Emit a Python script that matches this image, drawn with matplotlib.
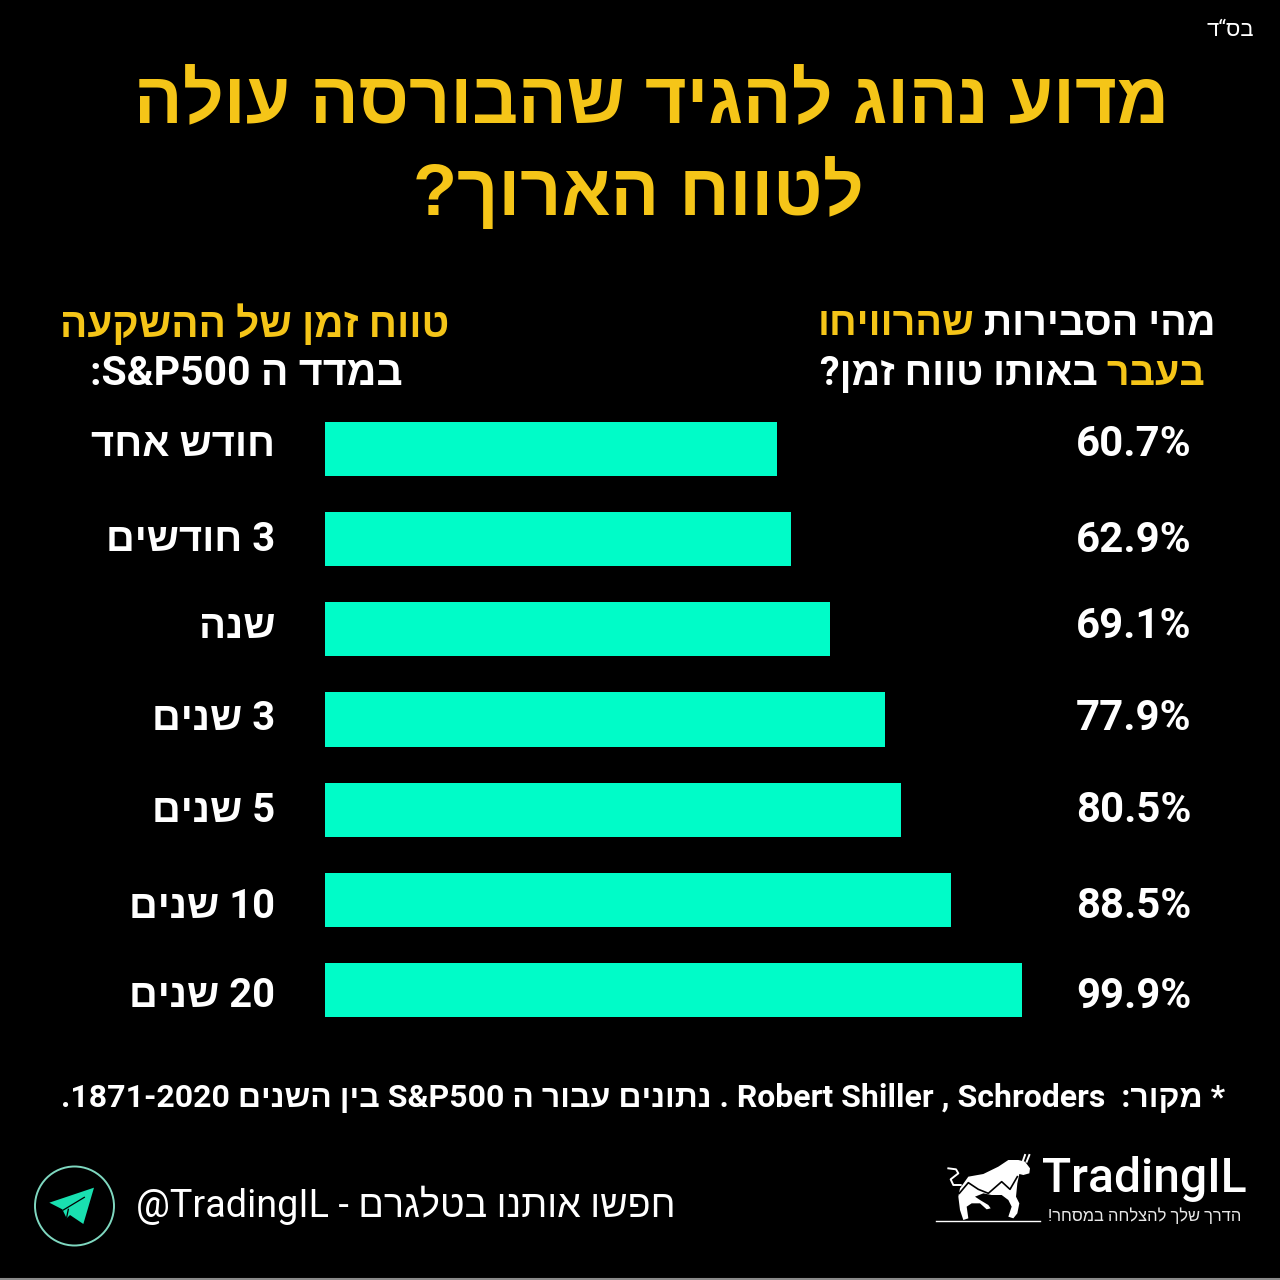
import re
import matplotlib
matplotlib.use("Agg")
import matplotlib.pyplot as plt
from matplotlib.patches import Circle, Polygon
from matplotlib.lines import Line2D

# Holding periods and the share of them that ended in profit
periods = ["חודש אחד", "3 חודשים", "שנה", "3 שנים", "5 שנים", "10 שנים", "20 שנים"]
probabilities = [60.7, 62.9, 69.1, 77.9, 80.5, 88.5, 99.9]
bar_origin = -11.8

title_lines = ["מדוע נהוג להגיד שהבורסה עולה", "לטווח הארוך?"]
source_note = "* מקור:  Robert Shiller , Schroders . נתונים עבור ה S&P500 בין השנים 1871-2020."
telegram_note = "חפשו אותנו בטלגרם - @TradingIL"
tagline = "הדרך שלך להצלחה במסחר!"

YELLOW = "#f5c518"
TEAL = "#00fcc8"
W = H = 1280
FONTS = ["Roboto", "Liberation Sans", "DejaVu Sans"]
ROW_TEXT_Y = [445, 540, 627, 719, 811, 907, 996]


def visual(s):
    """Reorder logical right-to-left text for a renderer that only draws left to right."""
    rev = s[::-1]
    return re.sub(r"[A-Za-z0-9@&][A-Za-z0-9@&.,\- ]*[A-Za-z0-9@&]|[A-Za-z0-9@&]",
                  lambda m: m.group(0)[::-1], rev)


fig = plt.figure(figsize=(W / 100, H / 100), dpi=100, facecolor="black")


def place(x, y, s, size, color="white", ha="right", weight="bold", fam=FONTS):
    return fig.text(x / W, 1 - y / H, s, fontsize=size * 0.72, color=color, ha=ha,
                    va="center", fontweight=weight, family=fam)


def label(x, y, s, size, **kw):
    return place(x, y, visual(s), size, **kw)


def label_runs(x_right, y, runs, size, weight="bold"):
    """Draw coloured pieces side by side, the first piece at the right edge."""
    renderer = fig.canvas.get_renderer()
    x = x_right
    for s, color in runs:
        t = label(x, y, s, size, color=color, weight=weight)
        x -= t.get_window_extent(renderer).width


# Bars on a value axis whose left edge sits at bar_origin
ax = fig.add_axes([325 / W, 1 - 1035 / H, (1100 - 325) / W, (1035 - 404) / H], facecolor="none")
rows = list(range(len(periods)))
ax.barh(rows, [v - bar_origin for v in probabilities], left=bar_origin, height=0.6, color=TEAL)
ax.set_xlim(bar_origin, bar_origin + (1100 - 325) / 6.24)
ax.set_ylim(len(periods) - 0.5, -0.5)
ax.axis("off")
for ypx, name, v in zip(ROW_TEXT_Y, periods, probabilities):
    label(275, ypx, name, 40)
    place(1191, ypx, f"{v}%", 42, fam=["Roboto", "DejaVu Sans"])

# Headline
label(651, 104, title_lines[0], 72, color=YELLOW, ha="center", fam=["Liberation Sans"])
label(638, 194, title_lines[1], 72, color=YELLOW, ha="center", fam=["Liberation Sans"])
label(1254, 30, "בס“ד", 22, weight="normal")

# Column headers
label_runs(1216, 324, [("מהי הסבירות ", "white"), ("שהרוויחו", YELLOW)], 39.5)
label_runs(1205, 374, [("בעבר ", YELLOW), ("באותו טווח זמן?", "white")], 39.5)
label(449, 324, "טווח זמן של ההשקעה", 40.5, color=YELLOW)
label(403, 374, "במדד ה S&P500:", 41)

# Footer
label(1225, 1098, source_note, 32)
label(675, 1205, telegram_note, 37.7, weight="normal")

# Overlay in pixel coordinates for the two small logos
overlay = fig.add_axes([0, 0, 1, 1], facecolor="none")
overlay.set_xlim(0, W)
overlay.set_ylim(H, 0)
overlay.axis("off")


def logo_xy(pts, x0, y0):
    return [(x0 + px / 3, y0 + py / 3) for px, py in pts]


def logo_line(pts, x0, y0, **kw):
    overlay.add_line(Line2D(*zip(*logo_xy(pts, x0, y0)), **kw))


# Telegram badge
overlay.add_patch(Circle((74.5, 1206), 39.5, fill=False, ec="#7fd8c0", lw=1.4))
overlay.add_patch(Polygon(logo_xy([(207, 83), (73, 128), (112, 148), (125, 175), (135, 165),
                                   (175, 192)], 25, 1160),
                          closed=True, fc="#19e0b0", ec="none"))
logo_line([(115, 150), (178, 112)], 25, 1160, color="black", lw=0.9)
logo_line([(125, 172), (130, 148)], 25, 1160, color="black", lw=0.9)

# Bull mark
BULL_X, BULL_Y = 930, 1150
overlay.add_patch(Polygon(logo_xy([(90, 115), (115, 80), (160, 72), (205, 50), (235, 30), (265, 30),
                                   (285, 35), (300, 55), (298, 70), (280, 75), (268, 72), (262, 100),
                                   (258, 140), (268, 160), (262, 190), (250, 205), (235, 200),
                                   (245, 170), (235, 150), (215, 135), (185, 135), (160, 130),
                                   (135, 140), (150, 150), (175, 165), (182, 175), (170, 178),
                                   (150, 160), (125, 160), (110, 170), (115, 205), (100, 210),
                                   (90, 180), (85, 140)], BULL_X, BULL_Y),
                          closed=True, fc="white", ec="none"))
logo_line([(88, 130), (115, 98), (145, 118), (175, 130), (215, 95), (240, 118), (262, 80)],
          BULL_X, BULL_Y, color="black", lw=1.2)
logo_line([(92, 105), (70, 105), (62, 88), (85, 70), (78, 58), (55, 55)], BULL_X, BULL_Y,
          color="white", lw=1.4)
logo_line([(278, 35), (285, 15)], BULL_X, BULL_Y, color="white", lw=1.4)
logo_line([(290, 35), (298, 15)], BULL_X, BULL_Y, color="white", lw=1.4)
logo_line([(18, 213), (330, 213)], BULL_X, BULL_Y, color="white", lw=1)

place(1247, 1179, "TradingIL", 48, fam=["Roboto"], weight="medium")
label(1241, 1216, tagline, 16.5, color="#e8e8e8", weight="normal")

# Thin pale edge along the bottom of the canvas
overlay.add_line(Line2D([0, W], [1278.5, 1278.5], color="#8a8a8a", lw=1.5))

fig.savefig("out.png", dpi=100, facecolor="black")
